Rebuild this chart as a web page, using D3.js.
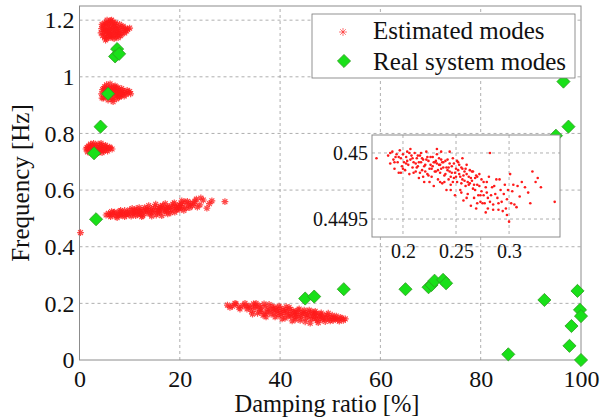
<!DOCTYPE html>
<html><head><meta charset="utf-8">
<script src="https://cdn.jsdelivr.net/npm/d3@7"></script>
<style>
body{margin:0;background:#fff;}
svg{display:block;}
text{font-family:"Liberation Serif","Times New Roman",serif;fill:#111;}
</style></head>
<body>
<svg id="chart" width="602" height="419"></svg>
<script>
// ---------- data ----------
const xTicks = [0,20,40,60,80,100];
const yTicks = [0,0.2,0.4,0.6,0.8,1,1.2];
const insetXTicks = [0.2,0.25,0.3];
const insetYTicks = [0.4495,0.45];
const legendLabels = ["Estimated modes","Real system modes"];

// estimated modes (damping %, frequency Hz), read from clusters
const clusterA = [[4.3,1.155],[4.4,1.17],[4.6,1.145],[4.7,1.18],[4.8,1.16],[5.0,1.19],[5.0,1.14],[5.1,1.168],[5.2,1.152],[5.3,1.185],[5.4,1.135],[5.5,1.2],[5.5,1.162],[5.6,1.175],[5.7,1.145],[5.8,1.19],[5.9,1.157],[6.0,1.17],[6.1,1.138],[6.2,1.198],[6.2,1.15],[6.3,1.182],[6.4,1.165],[6.5,1.142],[6.6,1.192],[6.7,1.158],[6.8,1.175],[6.9,1.135],[7.0,1.185],[7.1,1.152],[7.2,1.168],[7.3,1.142],[7.4,1.18],[7.5,1.16],[7.6,1.148],[7.8,1.172],[7.9,1.155],[8.1,1.165],[8.3,1.15],[8.5,1.175],[8.8,1.162],[9.2,1.17],[9.6,1.168],[10.0,1.172],[4.5,1.185],[4.9,1.172],[5.2,1.13],[5.6,1.188],[6.0,1.145],[6.4,1.2],[6.8,1.15],[7.2,1.19],[7.7,1.138],[8.0,1.185],[8.2,1.145],[8.7,1.178],[9.0,1.155],[9.4,1.162],[5.8,1.165],[6.6,1.175],[7.4,1.165],[5.3,1.16]];
const clusterB = [[4.4,0.94],[4.6,0.955],[4.8,0.925],[5.0,0.965],[5.1,0.945],[5.3,0.93],[5.4,0.972],[5.5,0.952],[5.7,0.918],[5.8,0.96],[5.9,0.938],[6.1,0.975],[6.2,0.948],[6.3,0.925],[6.4,0.962],[6.6,0.942],[6.7,0.912],[6.8,0.955],[7.0,0.932],[7.1,0.968],[7.2,0.946],[7.4,0.922],[7.5,0.958],[7.6,0.938],[7.8,0.95],[7.9,0.928],[8.1,0.945],[8.3,0.935],[8.5,0.952],[8.7,0.94],[9.0,0.948],[9.3,0.938],[9.7,0.945],[10.2,0.94],[4.5,0.925],[4.9,0.958],[5.2,0.94],[5.6,0.935],[6.0,0.955],[6.5,0.92],[6.9,0.965],[7.3,0.94],[7.7,0.962],[8.0,0.93],[8.4,0.958],[8.9,0.932],[9.5,0.952],[10.0,0.948],[6.3,0.94],[7.0,0.95],[5.3,0.955],[8.2,0.942]];
const clusterC = [[1.3,0.745],[1.6,0.735],[1.8,0.755],[2.0,0.742],[2.2,0.762],[2.3,0.73],[2.5,0.75],[2.7,0.738],[2.8,0.765],[3.0,0.745],[3.2,0.728],[3.3,0.757],[3.5,0.74],[3.7,0.762],[3.8,0.733],[4.0,0.75],[4.2,0.742],[4.4,0.758],[4.5,0.732],[4.7,0.748],[4.9,0.755],[5.1,0.74],[5.4,0.75],[5.7,0.745],[6.1,0.748],[6.5,0.745],[1.5,0.75],[2.1,0.75],[2.6,0.758],[2.9,0.735],[3.4,0.748],[3.9,0.742],[4.3,0.765],[4.8,0.738],[5.2,0.758],[5.6,0.738],[6.0,0.752],[3.6,0.732]];
const clusterD = [[0.2,0.45],[5.3,0.512],[5.8,0.518],[6.2,0.506],[6.6,0.514],[7.0,0.522],[7.3,0.508],[7.7,0.516],[8.0,0.525],[8.3,0.51],[8.7,0.52],[9.0,0.528],[9.3,0.512],[9.6,0.522],[10.0,0.53],[10.3,0.508],[10.6,0.518],[11.0,0.526],[11.3,0.534],[11.6,0.514],[12.0,0.522],[12.3,0.53],[12.6,0.51],[13.0,0.538],[13.3,0.52],[13.6,0.528],[14.0,0.516],[14.3,0.535],[14.6,0.524],[15.0,0.542],[15.3,0.512],[15.6,0.53],[16.0,0.52],[16.3,0.538],[16.6,0.546],[17.0,0.526],[17.3,0.534],[17.6,0.516],[18.0,0.542],[18.3,0.53],[18.6,0.55],[19.0,0.522],[19.3,0.538],[19.6,0.546],[20.0,0.532],[20.3,0.552],[20.6,0.54],[21.0,0.558],[21.3,0.536],[21.7,0.548],[22.1,0.555],[22.5,0.545],[23.0,0.56],[23.5,0.54],[24.7,0.565],[25.4,0.536],[26.4,0.562],[29.0,0.559],[8.5,0.515],[11.8,0.525],[14.8,0.53],[17.8,0.535],[12.8,0.524],[15.8,0.535],[18.8,0.54],[10.8,0.52],[6.0,0.512],[6.8,0.52],[7.5,0.503],[8.2,0.528],[9.0,0.506],[9.8,0.515],[10.5,0.535],[11.2,0.51],[11.9,0.538],[12.4,0.506],[13.2,0.53],[13.8,0.545],[14.4,0.508],[15.2,0.55],[15.9,0.526],[16.4,0.51],[17.1,0.552],[17.6,0.54],[18.2,0.52],[18.9,0.555],[19.4,0.53],[20.1,0.545],[20.8,0.528],[21.5,0.56],[22.0,0.538],[9.5,0.518],[12.2,0.516],[13.5,0.534],[14.2,0.524],[16.1,0.542],[16.8,0.532],[17.4,0.524],[19.8,0.538],[20.4,0.562],[22.8,0.552],[24.0,0.548],[6.4,0.524],[7.9,0.512],[10.9,0.528],[15.5,0.52],[24.2,0.572],[25.9,0.552],[23.3,0.568]];
const clusterE = [[29.5,0.194],[30.5,0.19],[31.2,0.198],[31.8,0.186],[32.5,0.192],[33.0,0.2],[33.4,0.18],[33.8,0.19],[34.3,0.172],[34.7,0.198],[35.0,0.182],[35.5,0.165],[35.8,0.192],[36.2,0.176],[36.6,0.158],[37.0,0.188],[37.4,0.17],[37.8,0.196],[38.2,0.162],[38.6,0.18],[39.0,0.152],[39.4,0.172],[39.8,0.19],[40.2,0.16],[40.6,0.178],[41.0,0.148],[41.4,0.168],[41.8,0.186],[42.2,0.155],[42.6,0.174],[43.0,0.142],[43.4,0.164],[43.8,0.18],[44.2,0.15],[44.6,0.168],[45.0,0.135],[45.4,0.158],[45.8,0.176],[46.2,0.145],[46.6,0.162],[47.0,0.172],[47.4,0.14],[47.8,0.155],[48.2,0.166],[48.6,0.148],[49.0,0.136],[49.4,0.158],[49.8,0.145],[50.2,0.152],[50.6,0.14],[51.0,0.148],[51.5,0.142],[52.0,0.15],[52.6,0.14],[53.0,0.145],[36,0.17],[38,0.175],[40,0.168],[42,0.162],[44,0.158],[46,0.155],[48,0.15],[39,0.185],[43,0.17],[47,0.16],[35,0.19],[41,0.175],[30.0,0.186],[31.0,0.2],[32.0,0.18],[33.2,0.19],[34.0,0.185],[34.5,0.162],[35.2,0.2],[36.0,0.185],[36.8,0.198],[37.2,0.152],[37.6,0.18],[38.4,0.19],[38.8,0.165],[39.6,0.158],[40.0,0.182],[40.4,0.145],[40.8,0.165],[41.2,0.188],[41.6,0.155],[42.0,0.178],[42.4,0.138],[42.8,0.165],[43.2,0.152],[43.6,0.176],[44.0,0.14],[44.4,0.165],[44.8,0.176],[45.2,0.148],[45.6,0.168],[46.0,0.13],[46.4,0.17],[46.8,0.15],[47.2,0.165],[47.6,0.132],[48.0,0.162],[48.4,0.142],[48.8,0.158],[49.2,0.148],[49.6,0.165],[50.0,0.138],[50.4,0.158],[50.8,0.146],[51.2,0.155],[51.8,0.137],[52.3,0.148],[37.0,0.164],[39.2,0.178],[43.0,0.156],[45.0,0.162],[47.0,0.146]];

// real system modes (damping %, frequency Hz)
const realModes = [[7.5,1.098],[7.1,1.072],[7.9,1.081],[5.7,0.94],[4.2,0.824],[2.9,0.73],[3.3,0.497],[96.5,0.983],[97.5,0.824],[95.0,0.792],[45.0,0.217],[46.8,0.224],[52.7,0.25],[65.0,0.25],[69.6,0.257],[70.2,0.265],[70.8,0.28],[72.5,0.283],[73.1,0.271],[85.5,0.02],[92.7,0.212],[99.3,0.244],[99.8,0.177],[100,0.155],[98.1,0.12],[97.7,0.05],[100,0.0]];

// inset: zoom of the estimated mode near (0.2 %, 0.45 Hz)
const insetPoints = [[0.175,0.44996],[0.186,0.44998],[0.188,0.44992],[0.19,0.45001],[0.191,0.44995],[0.192,0.44988],[0.194,0.44999],[0.195,0.44993],[0.196,0.44985],[0.197,0.45002],[0.198,0.44996],[0.199,0.4499],[0.2,0.44999],[0.201,0.44993],[0.202,0.44987],[0.203,0.44997],[0.204,0.45001],[0.205,0.44991],[0.206,0.44984],[0.207,0.44995],[0.208,0.44998],[0.209,0.44989],[0.21,0.44993],[0.211,0.45],[0.212,0.44986],[0.213,0.44996],[0.214,0.4499],[0.215,0.44981],[0.216,0.44998],[0.217,0.44993],[0.218,0.44987],[0.219,0.44995],[0.22,0.44978],[0.221,0.44991],[0.222,0.45001],[0.223,0.44984],[0.224,0.44994],[0.225,0.44988],[0.226,0.44997],[0.227,0.44982],[0.228,0.4499],[0.229,0.44975],[0.23,0.44993],[0.231,0.44986],[0.232,0.44999],[0.233,0.4498],[0.234,0.44991],[0.235,0.44985],[0.236,0.44995],[0.237,0.44977],[0.238,0.44989],[0.239,0.44983],[0.24,0.44994],[0.241,0.44972],[0.242,0.44987],[0.243,0.4498],[0.244,0.44992],[0.245,0.44976],[0.246,0.44985],[0.247,0.44996],[0.248,0.44981],[0.249,0.44968],[0.25,0.44988],[0.251,0.44978],[0.252,0.44993],[0.253,0.44984],[0.254,0.44972],[0.255,0.44989],[0.256,0.4498],[0.257,0.44964],[0.258,0.44986],[0.259,0.44975],[0.26,0.44991],[0.261,0.44969],[0.262,0.44982],[0.263,0.44977],[0.264,0.4496],[0.265,0.44986],[0.266,0.44973],[0.267,0.44966],[0.268,0.44981],[0.269,0.44958],[0.27,0.44976],[0.272,0.44984],[0.273,0.44968],[0.275,0.44962],[0.276,0.44978],[0.278,0.44955],[0.279,0.4497],[0.281,0.44982],[0.282,0.44963],[0.284,0.44974],[0.285,0.44957],[0.287,0.44969],[0.288,0.4498],[0.29,0.44962],[0.292,0.44972],[0.294,0.44956],[0.296,0.44976],[0.298,0.44965],[0.3,0.44948],[0.301,0.44984],[0.303,0.44971],[0.305,0.44961],[0.308,0.44975],[0.31,0.44967],[0.312,0.44978],[0.315,0.44974],[0.318,0.4497],[0.32,0.44962],[0.322,0.44986],[0.325,0.44978],[0.327,0.44981],[0.33,0.44974],[0.343,0.44963],[0.282,0.45],[0.273,0.44963],[0.298,0.44953],[0.307,0.44959],[0.29,0.44957],[0.285,0.44961],[0.193,0.44997],[0.198,0.44985],[0.203,0.44992],[0.206,0.45],[0.209,0.44996],[0.212,0.44992],[0.214,0.44998],[0.216,0.44985],[0.218,0.44996],[0.22,0.4499],[0.222,0.44995],[0.224,0.44983],[0.226,0.44991],[0.228,0.44997],[0.23,0.44986],[0.232,0.44992],[0.234,0.44996],[0.236,0.44988],[0.238,0.44993],[0.24,0.44984],[0.242,0.44995],[0.244,0.44986],[0.246,0.4499],[0.248,0.44992],[0.25,0.44982],[0.252,0.44987],[0.254,0.44982],[0.256,0.44988],[0.258,0.44979],[0.26,0.44984],[0.262,0.44976],[0.264,0.44981],[0.266,0.44986],[0.268,0.44972],[0.27,0.44982],[0.272,0.44975],[0.274,0.44971],[0.276,0.44968],[0.278,0.44974],[0.28,0.44966],[0.215,0.44993],[0.225,0.44978],[0.235,0.44991],[0.245,0.44982],[0.255,0.44977],[0.265,0.44979],[0.221,0.44986],[0.231,0.44994],[0.241,0.44989],[0.251,0.44994],[0.188,0.45],[0.192,0.44993],[0.196,0.44997],[0.2,0.44988],[0.204,0.44994],[0.207,0.45003],[0.21,0.44985],[0.213,0.44989],[0.217,0.45],[0.219,0.44982],[0.223,0.44997],[0.227,0.44988],[0.229,0.44993],[0.233,0.44987],[0.237,0.44993],[0.239,0.44978],[0.243,0.44989],[0.247,0.44978],[0.249,0.44985],[0.253,0.44991],[0.257,0.44983],[0.259,0.44988],[0.261,0.44978],[0.263,0.44987],[0.267,0.44976],[0.269,0.44983],[0.271,0.44968],[0.274,0.4498],[0.277,0.44962],[0.279,0.44978],[0.283,0.44968],[0.286,0.44975],[0.289,0.44966],[0.291,0.4498],[0.293,0.44963],[0.295,0.44969],[0.297,0.44958],[0.299,0.44972],[0.302,0.44962],[0.304,0.44976],[0.26,0.44966],[0.255,0.4497],[0.245,0.44972],[0.235,0.44978],[0.27,0.44962],[0.28,0.44958],[0.232,0.45003],[0.244,0.45001],[0.256,0.44996],[0.236,0.45001]];

// ---------- drawing ----------
const svg = d3.select("#chart");
const RED = "#ff1a1a", GREEN = "#19e019", GREEN_EDGE = "#2f9a22";
const x = d3.scaleLinear().domain([0,100]).range([79.5,581]);
const y = d3.scaleLinear().domain([0,1.25]).range([360,6]);

function star(cx,cy,r){const d=r*0.707;return `M${cx-r},${cy}L${cx+r},${cy}M${cx},${cy-r}L${cx},${cy+r}M${cx-d},${cy-d}L${cx+d},${cy+d}M${cx-d},${cy+d}L${cx+d},${cy-d}`;}
const diamond = d3.symbol().type(d3.symbolDiamond2 || d3.symbolDiamond).size(110);

// grid
const grid = svg.append("g");
grid.selectAll(".gx").data(xTicks.slice(1,-1)).join("line")
  .attr("x1",d=>x(d)).attr("x2",d=>x(d)).attr("y1",y(0)).attr("y2",y(1.25))
  .attr("stroke","#9a9a9a").attr("stroke-width",0.8).attr("stroke-dasharray","3,3");
grid.selectAll(".gy").data(yTicks.slice(1)).join("line")
  .attr("x1",x(0)).attr("x2",x(100)).attr("y1",d=>y(d)).attr("y2",d=>y(d))
  .attr("stroke","#9a9a9a").attr("stroke-width",0.8).attr("stroke-dasharray","3,3");

// frame
svg.append("rect").attr("x",x(0)).attr("y",y(1.25)).attr("width",x(100)-x(0)).attr("height",y(0)-y(1.25))
  .attr("fill","none").attr("stroke","#8c8c8c").attr("stroke-width",1);

// axes (labels)
const gx = svg.append("g").attr("transform",`translate(0,${y(0)})`)
  .call(d3.axisBottom(x).tickValues(xTicks).tickSize(0).tickPadding(10).tickFormat(d3.format("d")));
const gy = svg.append("g").attr("transform",`translate(${x(0)},0)`)
  .call(d3.axisLeft(y).tickValues(yTicks).tickSize(0).tickPadding(5).tickFormat(d=>d===0?"0":(d===1?"1":d3.format(".1f")(d))));
[gx,gy].forEach(g=>{g.select(".domain").remove();g.selectAll("text").attr("font-size",24).attr("font-family","Liberation Serif").attr("fill","#111");});

// estimated clusters
const est = [].concat(clusterA,clusterB,clusterC,clusterD,clusterE);
svg.append("g").selectAll("path").data(est).join("path")
  .attr("d",d=>star(x(d[0]),y(d[1]),3.4))
  .attr("stroke",RED).attr("stroke-width",1.2).attr("stroke-opacity",0.8).attr("fill","none");

// real modes
svg.append("g").selectAll("path").data(realModes).join("path")
  .attr("transform",d=>`translate(${x(d[0])},${y(d[1])})`)
  .attr("d",diamond).attr("fill",GREEN).attr("stroke",GREEN_EDGE).attr("stroke-width",0.8);

// axis titles
svg.append("text").attr("x",327).attr("y",412).attr("text-anchor","middle").attr("font-size",24.5).text("Damping ratio [%]");
svg.append("text").attr("transform","translate(29,183) rotate(-90)").attr("text-anchor","middle").attr("font-size",25).text("Frequency [Hz]");

// inset
const ix = d3.scaleLinear().domain([0.1708,0.348]).range([372,560]);
const iy = d3.scaleLinear().domain([0.449364,0.450136]).range([237,135]);
const inset = svg.append("g");
inset.append("rect").attr("x",372).attr("y",135).attr("width",188).attr("height",102).attr("fill","#fff");
inset.selectAll(".igx").data(insetXTicks).join("line")
  .attr("x1",d=>ix(d)).attr("x2",d=>ix(d)).attr("y1",135).attr("y2",237)
  .attr("stroke","#9a9a9a").attr("stroke-width",0.8).attr("stroke-dasharray","3,3");
inset.selectAll(".igy").data(insetYTicks).join("line")
  .attr("x1",372).attr("x2",560).attr("y1",d=>iy(d)).attr("y2",d=>iy(d))
  .attr("stroke","#9a9a9a").attr("stroke-width",0.8).attr("stroke-dasharray","3,3");
inset.append("rect").attr("x",372).attr("y",135).attr("width",188).attr("height",102).attr("fill","none").attr("stroke","#8c8c8c");
inset.selectAll("circle").data(insetPoints).join("circle")
  .attr("cx",d=>ix(d[0])).attr("cy",d=>iy(d[1])).attr("r",1.3).attr("fill",RED);
const igx = inset.append("g").attr("transform","translate(0,237)")
  .call(d3.axisBottom(ix).tickValues(insetXTicks).tickSize(0).tickPadding(7).tickFormat(d=>String(d)));
const igy = inset.append("g").attr("transform","translate(372,0)")
  .call(d3.axisLeft(iy).tickValues(insetYTicks).tickSize(0).tickPadding(4).tickFormat(d=>String(d)));
[igx,igy].forEach(g=>{g.select(".domain").remove();g.selectAll("text").attr("font-size",20).attr("font-family","Liberation Serif").attr("fill","#111");});

// legend
const lg = svg.append("g");
lg.append("rect").attr("x",312).attr("y",14).attr("width",263).attr("height",64).attr("fill","#fff").attr("stroke","#777").attr("stroke-width",0.8);
lg.append("path").attr("d",star(343,32,4)).attr("stroke",RED).attr("stroke-width",1).attr("stroke-opacity",0.6).attr("fill","none");
lg.append("path").attr("transform","translate(344,61)").attr("d",diamond).attr("fill",GREEN).attr("stroke",GREEN_EDGE).attr("stroke-width",0.8);
lg.selectAll("text").data(legendLabels).join("text")
  .attr("x",373).attr("y",(d,i)=>39+i*31).attr("font-size",25).text(d=>d);
</script>
</body></html>
